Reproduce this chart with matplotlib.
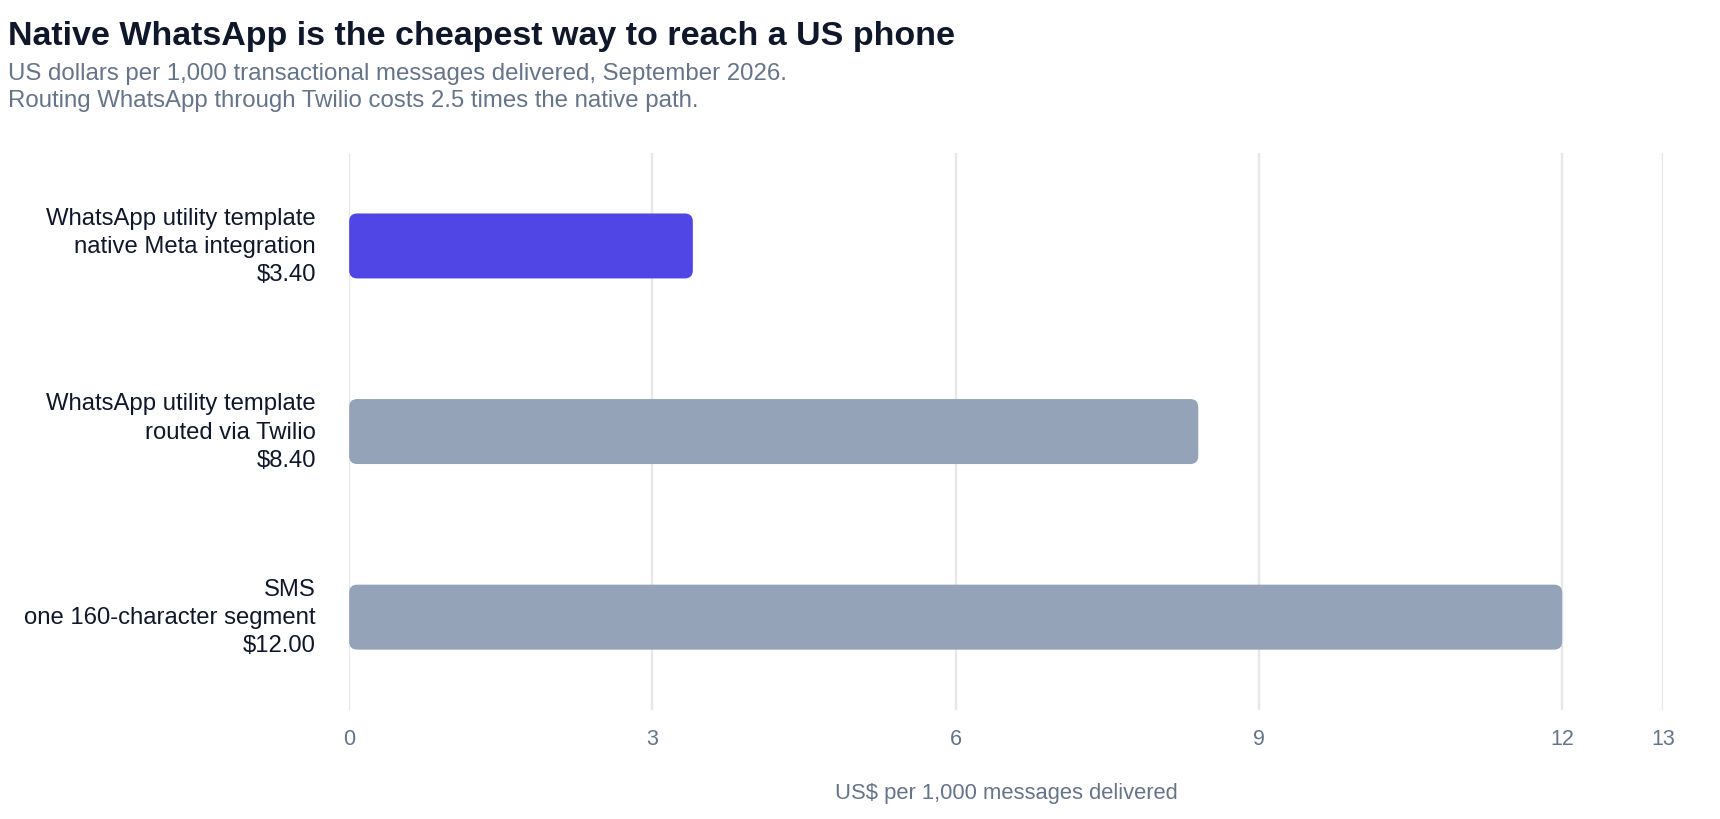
import matplotlib
matplotlib.use("Agg")
import matplotlib.pyplot as plt
from matplotlib.patches import FancyBboxPatch

plt.rcParams['font.family'] = ['Liberation Sans', 'DejaVu Sans']

# data (bottom to top)
labels = ["SMS\none 160-character segment\n$12.00",
          "WhatsApp utility template\nrouted via Twilio\n$8.40",
          "WhatsApp utility template\nnative Meta integration\n$3.40"]
values = [12.0, 8.4, 3.4]
colors = ["#94a3b8", "#94a3b8", "#5046e5"]
xticks = [0, 3, 6, 9, 12, 13]

TITLE_C = "#0f172a"
SUB_C = "#64748b"
GRID_C = "#e5e7eb"

fig = plt.figure(figsize=(17.2, 8.2), dpi=100)
ax = fig.add_axes([0.203, 0.133, 0.764, 0.679])
ax.set_xlim(0, 13)
ax.set_ylim(-0.5, 2.5)

# aspect for rounded corners (px per unit x / px per unit y)
fig_w, fig_h = fig.get_size_inches() * fig.dpi
px_x = 0.764 * fig_w / 13
px_y = 0.679 * fig_h / 3
aspect = px_x / px_y
radius_px = 8
bar_h = 0.35

for i, (v, c) in enumerate(zip(values, colors)):
    box = FancyBboxPatch((0, i - bar_h / 2), v, bar_h,
                         boxstyle=f"round,pad=0,rounding_size={radius_px / px_x}",
                         mutation_aspect=aspect, facecolor=c, edgecolor='none', zorder=3)
    ax.add_patch(box)

for t in xticks:
    ax.axvline(t, color=GRID_C, lw=1.7, zorder=1)

ax.set_xticks(xticks)
ax.set_xticklabels([str(t) for t in xticks])
ax.set_yticks(range(len(labels)))
ax.set_yticklabels(labels, fontsize=17.2, color=TITLE_C, linespacing=1.36, va='center')
ax.tick_params(axis='x', length=0, pad=13, labelsize=15.5, labelcolor=SUB_C)
ax.tick_params(axis='y', length=0, pad=24)
for s in ax.spines.values():
    s.set_visible(False)
ax.set_xlabel("US$ per 1,000 messages delivered", fontsize=15.8, color=SUB_C, labelpad=24)

fig.text(0.0045, 0.945, "Native WhatsApp is the cheapest way to reach a US phone",
         fontsize=24.5, fontweight='bold', color=TITLE_C, va='baseline')
fig.text(0.0045, 0.9024, "US dollars per 1,000 transactional messages delivered, September 2026.",
         fontsize=17.3, color=SUB_C, va='baseline')
fig.text(0.0045, 0.8695, "Routing WhatsApp through Twilio costs 2.5 times the native path.",
         fontsize=17.3, color=SUB_C, va='baseline')

fig.savefig("out.png", dpi=100, facecolor='white')
